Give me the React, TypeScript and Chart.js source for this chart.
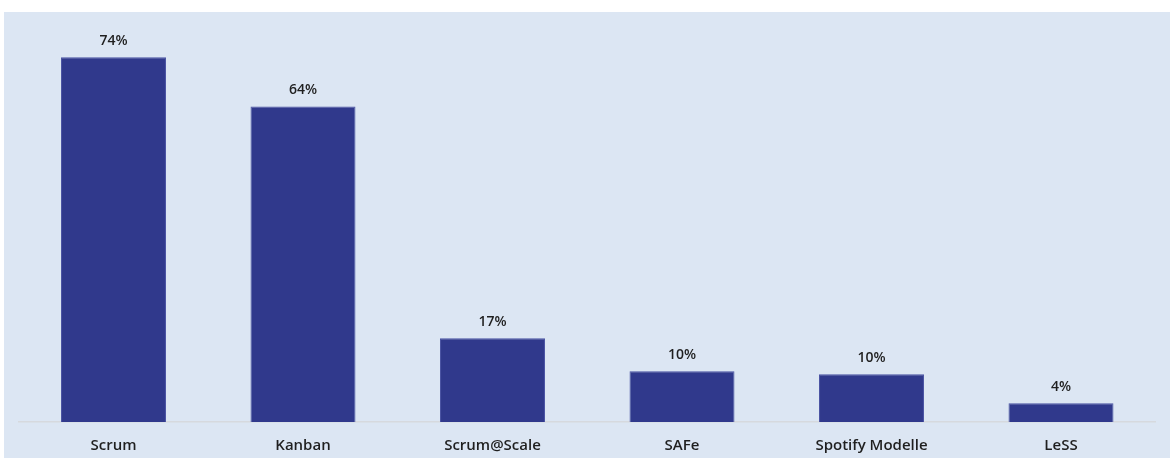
import React, { useEffect, useRef } from "react";
import { Chart, registerables } from "chart.js";

Chart.register(...registerables);

const categories = ["Scrum", "Kanban", "Scrum@Scale", "SAFe", "Spotify Modelle", "LeSS"];
const values = [74, 64, 17, 10.3, 9.7, 3.8];
const valueLabels = ["74%", "64%", "17%", "10%", "10%", "4%"];

const FONT = "'Open Sans', 'Noto Sans', sans-serif";

const labelPlugin = {
  id: "valueLabels",
  afterDatasetsDraw(chart: any) {
    const ctx = chart.ctx;
    const meta = chart.getDatasetMeta(0);
    ctx.save();
    ctx.fillStyle = "#1f1f1f";
    ctx.font = `600 14px ${FONT}`;
    ctx.textAlign = "center";
    ctx.textBaseline = "middle";
    meta.data.forEach((el: any, i: number) => {
      ctx.fillText(valueLabels[i], el.x, el.y - 16);
    });
    ctx.restore();
  },
};

export default function App() {
  const ref = useRef<HTMLCanvasElement>(null);
  useEffect(() => {
    document.body.style.margin = "0";
    const chart = new Chart(ref.current!, {
      type: "bar",
      data: {
        labels: categories,
        datasets: [
          {
            data: values,
            backgroundColor: "#30398c",
            borderColor: "#4a53a3",
            borderWidth: 1,
            barPercentage: 0.554,
            categoryPercentage: 1,
          },
        ],
      },
      options: {
        animation: false,
        responsive: true,
        maintainAspectRatio: false,
        layout: { padding: { left: 14.75, right: 14.25, top: 15.6, bottom: 2 } },
        plugins: { legend: { display: false }, tooltip: { enabled: false } },
        scales: {
          x: {
            grid: { display: false, drawTicks: false },
            border: { display: true, color: "#d6d9de", width: 1.5 },
            ticks: {
              color: "#1f1f1f",
              font: { size: 15, family: FONT, weight: "600" },
              padding: 15,
            },
            afterFit: (s: any) => {
              s.height = 34;
            },
          },
          y: {
            display: false,
            min: 0,
            max: 80,
          },
        },
      },
      plugins: [labelPlugin],
    });
    return () => chart.destroy();
  }, []);
  return (
    <div
      style={{
        position: "absolute",
        left: 4,
        top: 12,
        width: 1166,
        height: 446,
        background: "#dce6f3",
      }}
    >
      <canvas ref={ref} />
    </div>
  );
}
